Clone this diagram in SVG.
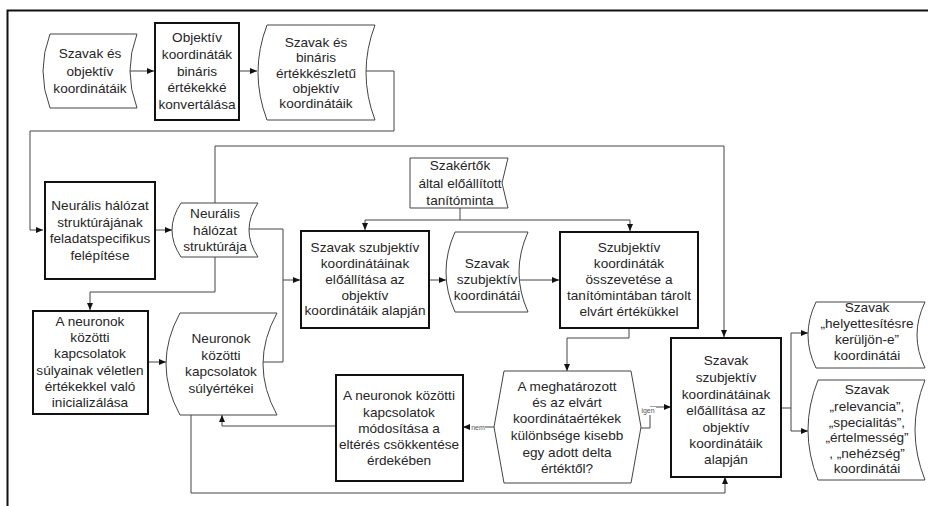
<svg xmlns="http://www.w3.org/2000/svg" width="928" height="506" viewBox="0 0 928 506">
  <style>
    text { font-family: "Liberation Sans", Arial, sans-serif; font-size: 13.6px; fill: #262626; text-anchor: middle; }
    .proc { fill: #fff; stroke: #111; stroke-width: 2; }
    .data { fill: #fff; stroke: #444; stroke-width: 1; }
    .conn { fill: none; stroke: #444; stroke-width: 1; }
    .tiny { font-size: 7px; fill: #555; }
  </style>
  <defs>
    <marker id="arrow" markerUnits="userSpaceOnUse" markerWidth="7" markerHeight="6" refX="7" refY="3" orient="auto">
      <path d="M0,0 L7,3 L0,6 z" fill="#111"/>
    </marker>
  </defs>

  <!-- frame -->
  <path d="M7.5,506 V10.5 H928" fill="none" stroke="#111" stroke-width="2"/>

  <!-- connectors -->
  <g id="connectors">
    <path class="conn" d="M130,71 H154" marker-end="url(#arrow)"/>
    <path class="conn" d="M239,71 H257" marker-end="url(#arrow)"/>
    <path class="conn" d="M366,71 H394 V131 H30 V230 H43" marker-end="url(#arrow)"/>
    <path class="conn" d="M155,230 H172" marker-end="url(#arrow)"/>
    <path class="conn" d="M215,203 V146 H724 V337" marker-end="url(#arrow)"/>
    <path class="conn" d="M249,229 H283 V280 H300" marker-end="url(#arrow)"/>
    <path class="conn" d="M263,362 H283 V280"/>
    <path class="conn" d="M215,257 V292 H90 V310" marker-end="url(#arrow)"/>
    <path class="conn" d="M148,362 H166" marker-end="url(#arrow)"/>
    <path class="conn" d="M460,208 V220 H365 V230" marker-end="url(#arrow)"/>
    <path class="conn" d="M460,220 H630 V231" marker-end="url(#arrow)"/>
    <path class="conn" d="M429,280 H446" marker-end="url(#arrow)"/>
    <path class="conn" d="M519,280 H559" marker-end="url(#arrow)"/>
    <path class="conn" d="M629,328 V338 H567 V371" marker-end="url(#arrow)"/>
    <path class="conn" d="M494,427 H463" marker-end="url(#arrow)"/>
    <path class="conn" d="M335,426 H222 V415" marker-end="url(#arrow)"/>
    <path class="conn" d="M641,428 H650 V407 H671" marker-end="url(#arrow)"/>
    <path class="conn" d="M191,415 V493 H725 V477" marker-end="url(#arrow)"/>
    <path class="conn" d="M781,408 H791 V333 H808" marker-end="url(#arrow)"/>
    <path class="conn" d="M791,408 V431 H808" marker-end="url(#arrow)"/>
    <!-- branch labels -->
    <rect x="470" y="423" width="15" height="8" fill="#fff"/>
    <text class="tiny" x="478" y="430">nem</text>
    <rect x="640" y="407" width="16" height="8" fill="#fff"/>
    <text class="tiny" x="648" y="413">igen</text>
  </g>

  <g id="n1">
    <path class="data" d="M50,34 H137 Q123,71 137,108 H50 Q36,71 50,34 Z"/>
    <text x="90" y="58">Szavak és</text>
    <text x="90" y="76">objektív</text>
    <text x="90" y="93">koordinátáik</text>
  </g>

  <g id="n2">
    <rect class="proc" x="155" y="23" width="84" height="97"/>
    <text x="197" y="42">Objektív</text>
    <text x="197" y="59">koordináták</text>
    <text x="197" y="76">bináris</text>
    <text x="197" y="92">értékekké</text>
    <text x="197" y="109">konvertálása</text>
  </g>

  <g id="n3">
    <path class="data" d="M267,25 H375 Q357,72.5 375,120 H267 Q249,72.5 267,25 Z"/>
    <text x="316" y="47">Szavak és</text>
    <text x="316" y="62">bináris</text>
    <text x="316" y="78">értékkészletű</text>
    <text x="316" y="93">objektív</text>
    <text x="316" y="108">koordinátáik</text>
  </g>

  <g id="n4">
    <rect class="proc" x="45" y="182" width="110" height="97"/>
    <text x="100" y="210">Neurális hálózat</text>
    <text x="100" y="227">struktúrájának</text>
    <text x="100" y="243">feladatspecifikus</text>
    <text x="100" y="260">felépítése</text>
  </g>

  <g id="n5">
    <path class="data" d="M181,203 H258 Q240,230 258,257 H181 Q163,230 181,203 Z"/>
    <text x="215" y="218">Neurális</text>
    <text x="215" y="235">hálózat</text>
    <text x="215" y="251">struktúrája</text>
  </g>

  <g id="n6">
    <rect class="proc" x="33" y="311" width="115" height="103"/>
    <text x="90" y="326">A neuronok</text>
    <text x="90" y="342">közötti</text>
    <text x="90" y="358">kapcsolatok</text>
    <text x="90" y="375">súlyainak véletlen</text>
    <text x="90" y="391">értékekkel való</text>
    <text x="90" y="407">inicializálása</text>
  </g>

  <g id="n7">
    <path class="data" d="M180,313 H277 Q249,364 277,415 H180 Q152,364 180,313 Z"/>
    <text x="221" y="343">Neuronok</text>
    <text x="221" y="360">közötti</text>
    <text x="221" y="376">kapcsolatok</text>
    <text x="221" y="393">súlyértékei</text>
  </g>

  <g id="n8">
    <path class="data" d="M410,158 H508 L502,183 L508,208 H410 Z"/>
    <text x="460" y="170">Szakértők</text>
    <text x="460" y="188">által előállított</text>
    <text x="460" y="205">tanítóminta</text>
  </g>

  <g id="n9">
    <rect class="proc" x="301" y="231" width="128" height="97"/>
    <text x="365" y="252">Szavak szubjektív</text>
    <text x="365" y="268">koordinátáinak</text>
    <text x="365" y="284">előállítása az</text>
    <text x="365" y="300">objektív</text>
    <text x="365" y="315">koordinátáik alapján</text>
  </g>

  <g id="n10">
    <path class="data" d="M455,232 H528 Q510,272 528,312 H455 Q437,272 455,232 Z"/>
    <text x="487" y="268">Szavak</text>
    <text x="487" y="284">szubjektív</text>
    <text x="487" y="300">koordinátái</text>
  </g>

  <g id="n11">
    <rect class="proc" x="560" y="232" width="138" height="96"/>
    <text x="629" y="252">Szubjektív</text>
    <text x="629" y="268">koordináták</text>
    <text x="629" y="284">összevetése a</text>
    <text x="629" y="300">tanítómintában tárolt</text>
    <text x="629" y="316">elvárt értékükkel</text>
  </g>

  <g id="n12">
    <polygon class="data" points="504,371 631,371 641,427 631,483 504,483 494,427"/>
    <text x="567" y="391">A meghatározott</text>
    <text x="567" y="407">és az elvárt</text>
    <text x="567" y="423">koordinátaértékek</text>
    <text x="567" y="440">különbsége kisebb</text>
    <text x="567" y="457">egy adott delta</text>
    <text x="567" y="473">értéktől?</text>
  </g>

  <g id="n13">
    <rect class="proc" x="336" y="375" width="127" height="106"/>
    <text x="399" y="400">A neuronok közötti</text>
    <text x="399" y="417">kapcsolatok</text>
    <text x="399" y="433">módosítása a</text>
    <text x="399" y="449">eltérés csökkentése</text>
    <text x="399" y="465">érdekében</text>
  </g>

  <g id="n14">
    <rect class="proc" x="671" y="338" width="110" height="139"/>
    <text x="726" y="365">Szavak</text>
    <text x="726" y="382">szubjektív</text>
    <text x="726" y="399">koordinátáinak</text>
    <text x="726" y="415">előállítása az</text>
    <text x="726" y="432">objektív</text>
    <text x="726" y="448">koordinátáik</text>
    <text x="726" y="464">alapján</text>
  </g>

  <g id="n15">
    <path class="data" d="M816,302 H925 Q909,335 925,368 H816 Q800,335 816,302 Z"/>
    <text x="867" y="312">Szavak</text>
    <text x="867" y="328">„helyettesítésre</text>
    <text x="867" y="344">kerüljön-e”</text>
    <text x="867" y="360">koordinátái</text>
  </g>

  <g id="n16">
    <path class="data" d="M818,380 H925 Q905,430 925,480 H818 Q798,430 818,380 Z"/>
    <text x="867" y="394">Szavak</text>
    <text x="867" y="411">„relevancia”,</text>
    <text x="867" y="427">„specialitás”,</text>
    <text x="867" y="442">„értelmesség”</text>
    <text x="867" y="458">, „nehézség”</text>
    <text x="867" y="473">koordinátái</text>
  </g>
</svg>
